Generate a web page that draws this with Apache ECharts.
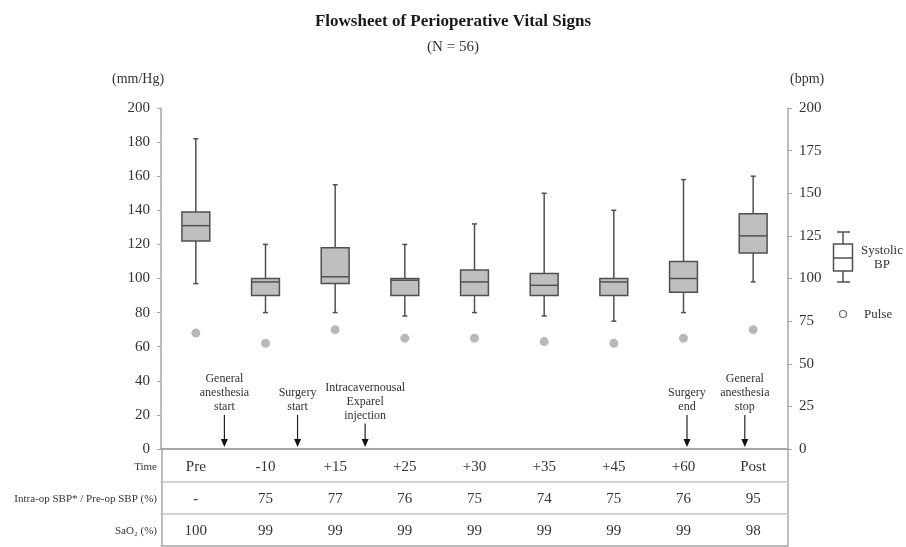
<!DOCTYPE html>
<html>
<head>
<meta charset="utf-8">
<script src="https://cdn.jsdelivr.net/npm/echarts@6/dist/echarts.min.js"></script>
<style>html,body{margin:0;padding:0;background:#fff}#main{width:906px;height:547px}</style>
</head>
<body>
<div id="main"></div>
<script>
// ---------- data ----------
const categories = ['Pre', '-10', '+15', '+25', '+30', '+35', '+45', '+60', 'Post'];
const sbpMin    = [97, 80, 80, 78, 80, 78, 75, 80, 98];
const sbpQ1     = [122, 90, 97, 90, 90, 90, 90, 92, 115];
const sbpMedian = [131, 98, 101, 99, 98, 96, 98, 100, 125];
const sbpQ3     = [139, 100, 118, 100, 105, 103, 100, 110, 138];
const sbpMax    = [182, 120, 155, 120, 132, 150, 140, 158, 160];
const pulse     = [68, 62, 70, 65, 65, 63, 62, 65, 70];
const sbpRatio  = ['-', '75', '77', '76', '75', '74', '75', '76', '95'];
const sao2      = ['100', '99', '99', '99', '99', '99', '99', '99', '98'];
const rowLabels = ['Time', 'Intra-op SBP* / Pre-op SBP (%)', 'SaO\u2082 (%)'];
const eventLabels = ['General\nanesthesia\nstart', 'Surgery\nstart', 'Intracavernousal\nExparel\ninjection', 'Surgery\nend', 'General\nanesthesia\nstop'];
const eventPos   = [0.41, 1.46, 2.43, 7.05, 7.88];   // in category units
const eventLevel = [20, 20, 15, 20, 20];             // mm/Hg where arrow starts
const leftAxisMax = 200, leftAxisStep = 20;
const rightAxisMax = 200, rightAxisStep = 25;

// ---------- layout ----------
const W = 906, H = 547;
const G = {left: 161, right: 118, top: 108, bottom: 98};
const gx0 = G.left, gx1 = W - G.right, gy1 = H - G.bottom;
const SERIF = '"Liberation Serif", "Times New Roman", serif';
const TXT = '#333333';
const rowOff = [0, 33, 65, 97];

const chart = echarts.init(document.getElementById('main'), null, {renderer: 'canvas'});

const boxData = categories.map((c, i) => [i, sbpMin[i], sbpQ1[i], sbpMedian[i], sbpQ3[i], sbpMax[i]]);
const eventData = eventPos.map((p, i) => [p, eventLevel[i], i]);

function tableAxis(labels, offset, showLabel, lineColor) {
  return {
    type: 'category', data: categories, position: 'bottom', offset: offset,
    boundaryGap: true,
    axisLine: {show: true, onZero: false, lineStyle: {color: lineColor, width: 1.5}},
    axisTick: {show: false},
    axisLabel: {show: showLabel, margin: 10, fontFamily: SERIF, fontSize: 15, color: TXT,
      formatter: (v, i) => labels ? labels[i] : v},
    splitLine: {show: false}
  };
}

function valueAxis(pos, max, step) {
  return {
    type: 'value', min: 0, max: max, interval: step, position: pos,
    axisLine: {show: true, onZero: false, lineStyle: {color: '#a6a6a6', width: 1.5}},
    axisTick: {show: true, length: 4, lineStyle: {color: '#a6a6a6'}},
    axisLabel: {margin: 11, fontFamily: SERIF, fontSize: 15, color: TXT},
    splitLine: {show: false}
  };
}

const option = {
  animation: false,
  backgroundColor: '#fff',
  title: {
    text: 'Flowsheet of Perioperative Vital Signs',
    subtext: '(N = 56)',
    left: 'center', top: 8, itemGap: 10,
    textStyle: {fontFamily: SERIF, fontSize: 17, fontWeight: 'bold', color: '#1a1a1a'},
    subtextStyle: {fontFamily: SERIF, fontSize: 15, color: TXT}
  },
  grid: {left: G.left, right: G.right, top: G.top, bottom: G.bottom, containLabel: false},
  xAxis: [
    {
      type: 'category', data: categories, position: 'bottom', offset: 0,
      axisLine: {show: true, onZero: false, lineStyle: {color: '#a6a6a6', width: 2}},
      axisTick: {show: false},
      axisLabel: {margin: 11, fontFamily: SERIF, fontSize: 15, color: TXT},
      splitLine: {show: false}
    },
    {type: 'value', min: -0.5, max: categories.length - 0.5, show: false, position: 'bottom',
      axisLine: {onZero: false}},
    tableAxis(sbpRatio, rowOff[1], true, '#c4c4c4'),
    tableAxis(sao2, rowOff[2], true, '#c4c4c4'),
    tableAxis(null, rowOff[3], false, '#a6a6a6')
  ],
  yAxis: [
    valueAxis('left', leftAxisMax, leftAxisStep),
    valueAxis('right', rightAxisMax, rightAxisStep)
  ],
  series: [
    {
      type: 'custom', name: 'Systolic BP', xAxisIndex: 0, yAxisIndex: 0,
      data: boxData, encode: {x: 0, y: [1, 2, 3, 4, 5]},
      renderItem: function (params, api) {
        const i = api.value(0);
        const band = api.size([1, 0])[0];
        const hw = band * 0.2;
        const cap = 2.5;
        const pMin = api.coord([i, api.value(1)]);
        const pQ1 = api.coord([i, api.value(2)]);
        const pMed = api.coord([i, api.value(3)]);
        const pQ3 = api.coord([i, api.value(4)]);
        const pMax = api.coord([i, api.value(5)]);
        const x = pMed[0];
        const ls = {stroke: '#505050', lineWidth: 1.5};
        return {
          type: 'group',
          children: [
            {type: 'line', shape: {x1: x, y1: pMax[1], x2: x, y2: pQ3[1]}, style: ls},
            {type: 'line', shape: {x1: x, y1: pQ1[1], x2: x, y2: pMin[1]}, style: ls},
            {type: 'line', shape: {x1: x - cap, y1: pMax[1], x2: x + cap, y2: pMax[1]}, style: ls},
            {type: 'line', shape: {x1: x - cap, y1: pMin[1], x2: x + cap, y2: pMin[1]}, style: ls},
            {type: 'rect', shape: {x: x - hw, y: pQ3[1], width: hw * 2, height: pQ1[1] - pQ3[1]},
              style: {fill: '#bfbfbf', stroke: '#505050', lineWidth: 1.5}},
            {type: 'line', shape: {x1: x - hw, y1: pMed[1], x2: x + hw, y2: pMed[1]}, style: ls}
          ]
        };
      }
    },
    {
      type: 'scatter', name: 'Pulse', xAxisIndex: 0, yAxisIndex: 1,
      data: pulse, symbol: 'circle', symbolSize: 9,
      itemStyle: {color: '#a6a6a6'}
    },
    {
      type: 'custom', name: 'events', xAxisIndex: 1, yAxisIndex: 0,
      data: eventData, encode: {x: 0, y: 1},
      renderItem: function (params, api) {
        const k = api.value(2);
        const top = api.coord([api.value(0), api.value(1)]);
        const base = api.coord([api.value(0), 0]);
        const x = top[0];
        const yEnd = base[1] - 2;
        return {
          type: 'group',
          children: [
            {type: 'line', shape: {x1: x, y1: top[1], x2: x, y2: yEnd - 6}, style: {stroke: '#222', lineWidth: 1.2}},
            {type: 'polygon', shape: {points: [[x - 3.5, yEnd - 8], [x + 3.5, yEnd - 8], [x, yEnd]]}, style: {fill: '#111'}},
            {type: 'text', style: {text: eventLabels[k], x: x, y: top[1] - 1, align: 'center', verticalAlign: 'bottom',
              font: '12px ' + SERIF, lineHeight: 14, fill: TXT}}
          ]
        };
      }
    }
  ],
  graphic: [
    // axis unit names
    {type: 'text', left: 112, top: 72, style: {text: '(mm/Hg)', font: '14px ' + SERIF, fill: TXT}},
    {type: 'text', left: 790, top: 72, style: {text: '(bpm)', font: '14px ' + SERIF, fill: TXT}},
    // table vertical borders
    {type: 'line', shape: {x1: gx0 + 1, y1: gy1, x2: gx0 + 1, y2: gy1 + rowOff[3]}, style: {stroke: '#a6a6a6', lineWidth: 1.5}},
    {type: 'line', shape: {x1: gx1, y1: gy1, x2: gx1, y2: gy1 + rowOff[3]}, style: {stroke: '#a6a6a6', lineWidth: 1.5}},
    // row labels
    {type: 'text', x: 157, y: gy1 + 18, style: {text: rowLabels[0], font: '11px ' + SERIF, fill: TXT, align: 'right', verticalAlign: 'middle'}},
    {type: 'text', x: 157, y: gy1 + 50, style: {text: rowLabels[1], font: '11px ' + SERIF, fill: TXT, align: 'right', verticalAlign: 'middle'}},
    {type: 'text', x: 157, y: gy1 + 82, style: {text: rowLabels[2], font: '11px ' + SERIF, fill: TXT, align: 'right', verticalAlign: 'middle'}},
    // legend: box icon
    {type: 'group', children: [
      {type: 'line', shape: {x1: 843, y1: 232, x2: 843, y2: 244}, style: {stroke: '#505050', lineWidth: 1.5}},
      {type: 'line', shape: {x1: 843, y1: 271, x2: 843, y2: 282}, style: {stroke: '#505050', lineWidth: 1.5}},
      {type: 'line', shape: {x1: 837, y1: 232, x2: 850, y2: 232}, style: {stroke: '#505050', lineWidth: 1.5}},
      {type: 'line', shape: {x1: 837, y1: 282, x2: 850, y2: 282}, style: {stroke: '#505050', lineWidth: 1.5}},
      {type: 'rect', shape: {x: 833.5, y: 244, width: 19, height: 27}, style: {fill: '#fff', stroke: '#505050', lineWidth: 1.5}},
      {type: 'line', shape: {x1: 833.5, y1: 258, x2: 852.5, y2: 258}, style: {stroke: '#505050', lineWidth: 1.5}},
      {type: 'text', x: 882, y: 258, style: {text: 'Systolic\nBP', font: '13px ' + SERIF, fill: TXT, align: 'center', verticalAlign: 'middle', lineHeight: 14}},
      {type: 'circle', shape: {cx: 843, cy: 314, r: 3.5}, style: {fill: '#fff', stroke: '#6a6a6a', lineWidth: 1.2}},
      {type: 'text', x: 864, y: 315, style: {text: 'Pulse', font: '13px ' + SERIF, fill: TXT, align: 'left', verticalAlign: 'middle'}}
    ]}
  ]
};
chart.setOption(option);
</script>
</body>
</html>
